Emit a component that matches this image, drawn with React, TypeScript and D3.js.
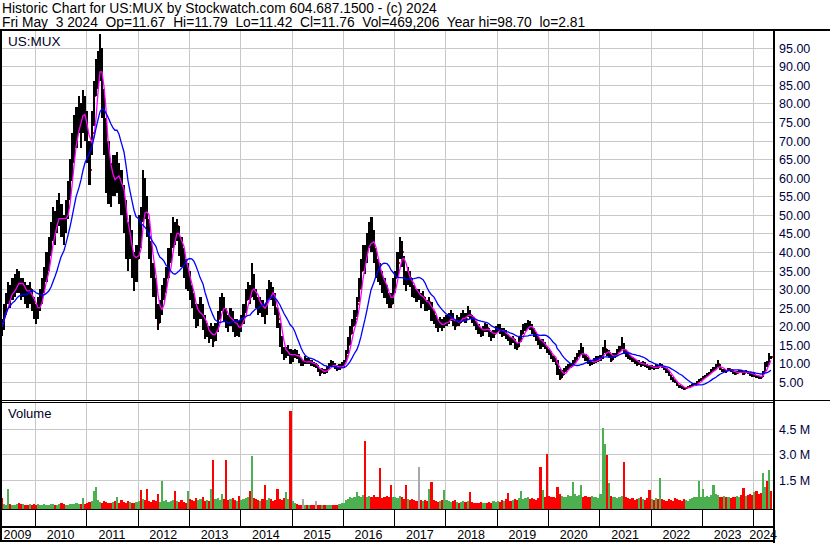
import React, { useEffect, useRef } from "react";
import * as d3 from "d3";

// half-month periods, first one starts May 1 2009, last one May 1 2024
const closes = [
  // 2009 (May-Dec)
  20, 23, 27, 29, 28, 30, 31, 33, 32, 30, 31, 29, 28, 30, 27, 25,
  // 2010
  23, 25, 27, 30, 33, 36, 40, 44, 48, 46, 50, 52, 48, 46, 50, 55, 60, 66, 72, 75, 78, 74, 80, 76,
  // 2011
  68, 62, 72, 82, 88, 90, 94, 82, 72, 66, 60, 56, 62, 60, 62, 58, 56, 52, 44, 40, 45, 38, 33, 38,
  // 2012
  47, 45, 56, 54, 48, 42, 36, 32, 25, 21, 24, 28, 30, 33, 38, 42, 46, 45, 47, 42, 40, 37, 33, 34,
  // 2013
  30, 28, 25, 22, 23, 25, 22, 18, 19, 17, 19, 16, 19, 22, 26, 27, 24, 22, 21, 23, 21, 19, 20, 19,
  // 2014
  21, 24, 27, 30, 28, 33, 29, 27, 25, 26, 25, 23.5, 28, 31, 29, 28, 25, 22, 16, 14, 12, 13, 13.5, 11,
  // 2015
  12, 13, 12.2, 11, 10, 10, 11, 10.3, 10.5, 9.8, 9.5, 9.5, 8, 7.5, 8.2, 7.6, 8.5, 9.2, 10, 9.6, 9.1, 8.6, 9, 9.5,
  // 2016
  10, 12, 15, 18, 20, 22, 26, 30, 35, 40, 38, 42, 45, 44, 40, 36, 35, 34, 32, 30, 28, 27, 26, 30,
  // 2017
  33, 37, 42, 40, 34, 32, 34, 33, 30, 29, 28.5, 28.5, 27, 28, 26, 25.5, 26.5, 24, 22, 21, 20, 21, 20, 21,
  // 2018
  21.5, 22, 23, 21, 20, 22, 21, 22.5, 23, 22, 24, 23, 22, 21, 20, 19, 18, 19, 20, 19.5, 18, 17, 18, 19,
  // 2019
  19.5, 19, 18, 18.5, 17.5, 17, 16, 16.5, 15, 14.5, 16, 18, 19, 20, 20.5, 20, 19, 18, 17, 16, 15, 15.5, 14.5, 13.5,
  // 2020
  13, 12, 11, 10.5, 8, 6, 7, 8, 8.5, 9, 9.5, 10, 11, 12, 12.5, 14, 12, 11.5, 10.5, 10, 10.3, 10.6, 11, 11.2,
  // 2021
  11.5, 13.5, 14, 12.5, 12.8, 11, 12, 12.2, 13, 14, 15, 13, 12.5, 12, 11.5, 11, 10.5, 10, 10.2, 9.5, 10, 9.6, 9.3, 8.8,
  // 2022
  9, 8.7, 9.2, 9, 9.5, 9.1, 8.6, 8, 7, 6, 5.5, 5, 4.2, 3.7, 3.5, 3.1, 3.3, 3.6, 3.9, 4.1, 4.3, 4.8, 5.5, 5.7,
  // 2023
  6.2, 6.6, 7, 7.4, 8, 8.5, 9.2, 9.8, 8.8, 8, 8.2, 7.9, 8.4, 8.1, 7.6, 7.2, 7.5, 7.9, 7.8, 7.3, 7.8, 7.5, 7.1, 6.8,
  // 2024 (Jan-May)
  6.9, 6.5, 6.3, 6.2, 7.5, 10, 9.5, 11.8, 11.76,
];

const highs = [
  22, 26, 29, 32, 31, 33, 34, 35.5, 35, 33, 33, 32, 31, 32, 30, 28,
  26, 28, 30, 33, 36, 40, 44, 48, 52, 51, 54, 56, 53, 50, 54, 59, 65, 72, 77, 79, 82, 80, 83.5, 82,
  78, 70, 78, 86, 92, 94, 98.7, 95, 84, 76, 70, 64, 66, 66, 67, 64, 62, 58, 54, 48, 50, 46, 40, 42,
  50, 52, 62, 60, 55, 49, 43, 37, 33, 26, 27, 31, 33, 36, 41, 45, 49.5, 48, 49, 47, 44, 41, 38, 37,
  35, 31, 29, 26, 26, 28, 26, 23, 21, 20, 21, 20, 21, 24, 28, 29, 28, 25, 23, 25, 24, 22, 22, 21.5,
  23, 26, 30, 32, 31, 37, 34, 30, 28, 28, 27, 26, 30, 32.5, 32, 30.5, 29, 25, 21, 17.5, 14.5, 14.5, 15, 13.8,
  13.5, 14, 13.5, 12.5, 11.5, 11, 12, 11.5, 11.5, 10.8, 10.3, 10.2, 9.6, 8.4, 8.8, 8.5, 9.3, 10, 11, 10.6, 10, 9.5, 9.7, 10.5,
  11, 13.5, 17, 20, 22, 24.5, 28, 33, 38, 42, 42, 45, 48, 49.4, 46, 41, 38, 37, 35, 33, 31, 29, 29, 33,
  35, 40, 44, 43, 39, 35, 36, 35, 33, 31, 30, 30, 29, 29.5, 28, 27, 28, 26.5, 24, 23, 22, 22.5, 22, 22.5,
  23, 23.5, 24.5, 23.5, 21.5, 23, 22.5, 23.5, 24.5, 23.5, 25.5, 24.5, 23, 22.5, 21.5, 20.5, 19.5, 20, 21, 20.5, 19.5, 18.5, 19, 20,
  20.5, 20.5, 19.5, 19.5, 19, 18, 17, 17.5, 16.5, 15.5, 17, 19, 20.5, 21, 21.8, 21.5, 20.5, 19.5, 18.5, 17.5, 16.5, 16.5, 15.8, 14.5,
  13.8, 13.2, 12, 11.5, 10.8, 8.5, 8.2, 8.8, 9.2, 9.8, 10.2, 10.8, 11.8, 12.8, 13.5, 15.4, 14.5, 12.6, 11.8, 11, 11, 11.5, 12, 12,
  12.2, 14.5, 16.2, 14, 13.5, 12.5, 12.7, 12.8, 13.8, 14.8, 17, 15.5, 13.5, 13, 12.3, 11.8, 11.3, 10.8, 10.8, 10.3, 10.6, 10.3, 9.9, 9.5,
  9.5, 9.3, 9.7, 9.6, 10, 9.8, 9.2, 8.7, 8, 7, 6.2, 5.6, 5, 4.3, 3.9, 3.6, 3.6, 3.9, 4.2, 4.5, 4.7, 5.2, 5.9, 6.1,
  6.5, 7, 7.4, 7.8, 8.4, 9, 9.7, 10.8, 9.8, 8.6, 8.6, 8.3, 8.8, 8.6, 8.1, 7.7, 7.9, 8.3, 8.2, 7.9, 8.2, 8, 7.6, 7.3,
  7.3, 7, 6.7, 6.6, 7.9, 10.5, 10.6, 12.7, 12.1,
];

const lows = [
  17.5, 19, 23, 26, 25, 27, 28, 29, 29, 27, 28, 26, 25, 26, 24, 22,
  20.5, 22, 24, 26, 29, 32, 35, 39, 43, 42, 45, 47, 44, 42, 45, 49, 54, 59, 64, 68, 72, 68, 72, 70,
  64, 58, 66, 74, 82, 84, 86, 76, 66, 56, 53, 52, 55, 55, 56, 53, 50, 45, 38, 35, 38, 33, 29.5, 32,
  38, 41, 48, 49, 44, 38, 33, 28, 22, 19, 21, 23, 27, 29, 33, 37, 41, 42, 43, 39, 36, 33, 30, 29.5,
  27, 25, 22, 19.5, 20, 22, 19, 16.5, 17, 15.5, 16.5, 14.5, 16, 18.5, 22, 24, 21.5, 19.5, 18.5, 20, 18.5, 17, 17.5, 17,
  18.5, 20.5, 23.5, 27, 26, 28, 27, 25, 23, 23.5, 22.5, 20.5, 23, 27, 27, 25.5, 23, 19.5, 14.5, 12.5, 11, 11.5, 12, 9.8,
  10.5, 11.5, 11.3, 10.2, 9.3, 9.4, 9.8, 9.7, 9.8, 9.2, 8.9, 8.8, 7.6, 6.7, 7.4, 7.1, 7.5, 8.4, 9.3, 9, 8.5, 8, 8.2, 8.7,
  9, 10.5, 12.5, 15, 18, 20, 22.5, 26.5, 30, 35, 34, 37, 41, 40, 37, 33, 32, 31, 29, 27.5, 26, 25, 24.8, 26,
  29, 33, 38, 36, 31, 29.5, 31, 30.5, 28, 27.5, 26.5, 27, 25, 26, 24, 24, 24.5, 21.5, 20.5, 19.5, 18.5, 19.5, 18.8, 19.5,
  20, 20.5, 21.5, 20, 19, 20, 20, 21, 21.5, 21, 22.5, 22, 21, 20, 19, 18, 17, 17.5, 18.5, 18.5, 17, 16, 16.8, 17.8,
  18.5, 18, 17, 17.5, 16.5, 16, 15, 15.5, 14, 13.5, 14.5, 15.8, 17.8, 18.8, 19.3, 19, 18, 17, 16, 15, 14, 14.5, 13.8, 12.8,
  12.2, 11.3, 10.3, 9.5, 7, 5.4, 6, 7, 7.8, 8.3, 8.8, 9.2, 10, 11, 11.6, 12.2, 11.5, 10.7, 9.8, 9.3, 9.5, 9.9, 10.2, 10.5,
  10.7, 11.3, 12.8, 12, 11.8, 10.5, 11, 11.5, 12.2, 13, 13.8, 12.5, 11.8, 11.3, 10.9, 10.4, 9.9, 9.4, 9.5, 9, 9.3, 9, 8.7, 8.3,
  8.5, 8.3, 8.6, 8.6, 8.9, 8.7, 8.1, 7.5, 6.5, 5.6, 5, 4.6, 3.9, 3.4, 3.2, 2.81, 3, 3.3, 3.6, 3.8, 4, 4.4, 5, 5.3,
  5.8, 6.1, 6.6, 7, 7.5, 8, 8.6, 9.1, 8.3, 7.6, 7.8, 7.5, 7.9, 7.7, 7.2, 6.9, 7.1, 7.5, 7.3, 6.9, 7.3, 7.1, 6.7, 6.3,
  6.4, 6.1, 5.9, 5.8, 6.3, 7.6, 9, 9.6, 11.3,
];

// volume in thousands of shares
const volumes = [
  450, 120, 80, 1000, 100, 60, 80, 120, 150, 90, 100, 60, 80, 110, 70, 90,
  60, 90, 80, 70, 100, 60, 80, 120, 90, 70, 60, 100, 150, 120, 80, 70, 100, 130, 90, 200, 120, 100, 450, 130,
  200, 250, 300, 850, 1100, 350, 250, 200, 300, 250, 150, 200, 250, 300, 550, 150, 350, 250, 200, 300, 250, 200, 180, 250,
  300, 950, 400, 350, 1000, 300, 250, 350, 300, 700, 250, 1440, 300, 350, 250, 300, 350, 900, 300, 250, 350, 250, 200, 850,
  400, 350, 300, 450, 350, 400, 500, 300, 350, 300, 970, 2650, 400, 450, 350, 700, 400, 2650, 350, 400, 450, 350, 300, 600,
  350, 400, 450, 500, 900, 2900, 450, 400, 350, 300, 400, 1250, 350, 450, 400, 300, 350, 1000, 400, 350, 450, 800, 400, 5500,
  300, 200, 100, 80, 70, 400, 60, 50, 60, 40, 50, 300, 50, 60, 40, 50, 60, 80, 50, 60, 70, 80, 100, 150,
  200, 350, 400, 500, 450, 550, 800, 600, 500, 650, 3800, 550, 600, 500, 650, 550, 500, 2200, 450, 500, 600, 550, 1200, 500,
  500, 450, 600, 550, 400, 1200, 400, 350, 400, 350, 300, 2270, 350, 300, 350, 300, 1000, 1380, 350, 300, 250, 300, 350, 950,
  350, 300, 250, 300, 350, 250, 200, 250, 300, 250, 300, 800, 250, 200, 150, 200, 250, 200, 150, 200, 250, 200, 300, 250,
  300, 250, 350, 300, 400, 750, 300, 350, 400, 350, 450, 850, 400, 450, 500, 400, 450, 400, 350, 450, 2270, 930, 500, 3000,
  600, 500, 550, 450, 1100, 700, 600, 550, 500, 650, 600, 1400, 700, 600, 650, 1200, 550, 600, 500, 550, 600, 500, 550, 450,
  700, 4550, 3600, 2950, 1350, 600, 550, 500, 450, 500, 600, 2550, 500, 450, 400, 450, 350, 400, 450, 500, 400, 350, 450, 950,
  400, 350, 450, 400, 1630, 400, 350, 300, 400, 350, 300, 450, 400, 350, 300, 400, 350, 300, 400, 450, 500, 550, 1440, 500,
  1000, 500, 600, 550, 650, 1200, 700, 650, 550, 500, 600, 550, 500, 450, 550, 500, 600, 550, 650, 1050, 600, 650, 700, 650,
  800, 850, 700, 750, 1900, 1100, 1450, 2100, 900,
];

const yearLabels = [2009, 2010, 2011, 2012, 2013, 2014, 2015, 2016, 2017, 2018, 2019, 2020, 2021, 2022, 2023, 2024];
const priceTicks = [5, 10, 15, 20, 25, 30, 35, 40, 45, 50, 55, 60, 65, 70, 75, 80, 85, 90, 95];
const volumeTicks = [1500, 3000, 4500];

const headerLine1 = "Historic Chart for US:MUX by Stockwatch.com 604.687.1500 - (c) 2024";
const headerLine2 = "Fri May  3 2024  Op=11.67  Hi=11.79  Lo=11.42  Cl=11.76  Vol=469,206  Year hi=98.70  lo=2.81";

const FONT = "'Liberation Sans', Arial, sans-serif";

const App = () => {
  const svgRef = useRef(null);

  useEffect(() => {
    document.body.style.margin = "0";
    const svg = d3.select(svgRef.current);
    svg.selectAll("*").remove();

    const axisX = 773;
    const dates = closes.map((_, i) => new Date(2009, 4 + Math.floor(i / 2), i % 2 ? 16 : 1));

    const x = d3
      .scaleTime()
      .domain([new Date(2010, 0, 1), new Date(2024, 0, 1)])
      .range([35, 753.3]);
    const y = d3.scaleLinear().domain([0, 99.5]).range([400.5, 31]);
    const yv = d3.scaleLinear().domain([0, 4500]).range([506, 428.6]);

    const yearStarts = d3.range(2010, 2025).map((yr) => new Date(yr, 0, 1));

    svg.append("rect").attr("width", 830).attr("height", 543).attr("fill", "#fff");

    // grid
    const grid = svg.append("g").attr("stroke", "#c8c8c8").attr("shape-rendering", "crispEdges");
    grid
      .selectAll(".vg")
      .data(yearStarts)
      .join("line")
      .attr("x1", (d) => Math.round(x(d)) + 0.5)
      .attr("x2", (d) => Math.round(x(d)) + 0.5)
      .attr("y1", 31)
      .attr("y2", 400);
    grid
      .selectAll(".vg2")
      .data(yearStarts)
      .join("line")
      .attr("x1", (d) => Math.round(x(d)) + 0.5)
      .attr("x2", (d) => Math.round(x(d)) + 0.5)
      .attr("y1", 403)
      .attr("y2", 509);
    grid
      .selectAll(".hg")
      .data(priceTicks)
      .join("line")
      .attr("x1", 2)
      .attr("x2", axisX)
      .attr("y1", (d) => Math.round(y(d)) + 0.5)
      .attr("y2", (d) => Math.round(y(d)) + 0.5);
    grid
      .selectAll(".hv")
      .data(volumeTicks)
      .join("line")
      .attr("x1", 2)
      .attr("x2", axisX)
      .attr("y1", (d) => Math.round(yv(d)) + 0.5)
      .attr("y2", (d) => Math.round(yv(d)) + 0.5);

    const barX = (i) => Math.round(x(dates[i]));
    const barW = (i) => (i < dates.length - 1 ? barX(i + 1) - barX(i) : 2);

    // price bars with red close ticks
    const bars = svg.append("g").attr("shape-rendering", "crispEdges");
    dates.forEach((_, i) => {
      const x0 = barX(i);
      const w = barW(i);
      const top = Math.round(y(highs[i]));
      const bot = Math.round(y(lows[i]));
      bars
        .append("rect")
        .attr("x", x0)
        .attr("y", top)
        .attr("width", w)
        .attr("height", Math.max(1, bot - top))
        .attr("fill", "#000");
      bars
        .append("rect")
        .attr("x", x0 + w)
        .attr("y", Math.round(y(closes[i])) - 1)
        .attr("width", 1)
        .attr("height", 2)
        .attr("fill", "#ff0000");
    });

    // moving averages
    const movingAvg = (n) =>
      closes.map((_, i) => d3.mean(closes.slice(Math.max(0, i - n + 1), i + 1)));
    const line = d3
      .line()
      .x((_, i) => barX(i) + 1)
      .y((d) => y(d));
    svg
      .append("path")
      .datum(movingAvg(4))
      .attr("d", line)
      .attr("fill", "none")
      .attr("stroke", "#ff00ff")
      .attr("stroke-width", 1.3);
    svg
      .append("path")
      .datum(movingAvg(13))
      .attr("d", line)
      .attr("fill", "none")
      .attr("stroke", "#0000ff")
      .attr("stroke-width", 1.3);

    // volume bars
    const vol = svg.append("g").attr("shape-rendering", "crispEdges");
    volumes.forEach((v, i) => {
      const prev = i > 0 ? closes[i - 1] : null;
      const color =
        prev !== null && closes[i] > prev ? "#4cb050" : prev !== null && closes[i] === prev ? "#a8a8a8" : "#ff0000";
      const top = Math.round(yv(v));
      vol
        .append("rect")
        .attr("x", barX(i))
        .attr("y", top)
        .attr("width", barW(i))
        .attr("height", 509 - top)
        .attr("fill", color);
    });

    // frame
    const frame = svg.append("g").attr("fill", "#000").attr("shape-rendering", "crispEdges");
    const box = (bx, by, bw, bh) =>
      frame.append("rect").attr("x", bx).attr("y", by).attr("width", bw).attr("height", bh);
    box(0, 29, 830, 2);
    box(0, 31, 2, 511);
    box(axisX, 29, 2, 514);
    box(0, 400, axisX, 1);
    box(0, 402, axisX, 1);
    box(axisX, 400, 57, 1);
    box(0, 509, axisX, 1);
    box(0, 526, axisX, 2);
    box(0, 540, axisX, 2);
    yearStarts.forEach((d) => box(Math.round(x(d)), 509, 1, 17));

    // texts
    const txt = (tx, ty, s, size, fill = "#000", anchor = "start") =>
      svg
        .append("text")
        .attr("x", tx)
        .attr("y", ty)
        .attr("font-family", FONT)
        .attr("font-size", size)
        .attr("fill", fill)
        .attr("text-anchor", anchor)
        .style("white-space", "pre")
        .text(s);

    txt(2, 13, headerLine1, 13.8);
    txt(2, 27, headerLine2, 13.8);
    txt(8, 46, "US:MUX", 13.5, "#000028");
    txt(8, 418, "Volume", 13, "#000028");

    priceTicks.forEach((t) => txt(779, Math.round(y(t)) + 5, d3.format(".2f")(t), 12.5, "#000040"));
    volumeTicks.forEach((t) => txt(779, Math.round(yv(t)) + 5, `${d3.format(".1f")(t / 1000)} M`, 12.5, "#000040"));

    yearLabels.forEach((yr) => {
      const a = yr === 2009 ? 0 : x(new Date(yr, 0, 1));
      const b = yr === 2024 ? axisX : x(new Date(yr + 1, 0, 1));
      txt((a + b) / 2, 539, String(yr), 12.5, "#000", "middle");
    });
  }, []);

  return <svg ref={svgRef} width={830} height={543} style={{ display: "block" }} />;
};

export default App;
